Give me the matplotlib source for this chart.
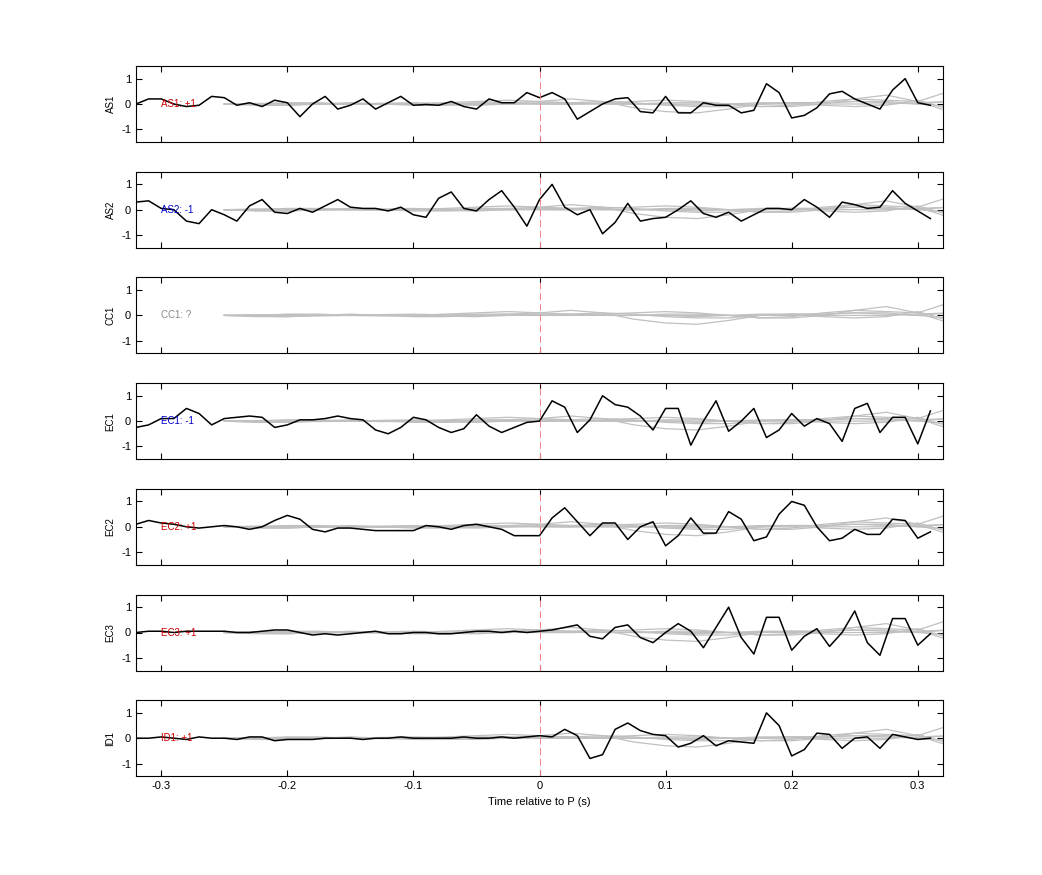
import matplotlib
matplotlib.use("Agg")
import matplotlib.pyplot as plt
import numpy as np

plt.rcParams["font.family"] = ["Liberation Sans", "DejaVu Sans"]
plt.rcParams["axes.unicode_minus"] = False

t = np.round(np.arange(-0.32, 0.315, 0.01), 2)

channels = ["AS1", "AS2", "CC1", "EC1", "EC2", "EC3", "ID1"]
polarity = ["+1", "-1", "?", "-1", "+1", "+1", "+1"]
pol_colors = {"+1": "#cc0000", "-1": "#0000cc", "?": "#888888"}

as1 = [0, 0.2, 0.2, 0, -0.1, -0.05, 0.3, 0.25, -0.05, 0.05, -0.1, 0.15, 0.05, -0.5, 0, 0.3,
       -0.2, -0.05, 0.2, -0.2, 0.05, 0.3, -0.05, -0.02, -0.05, 0.1, -0.1, -0.2, 0.2, 0.05, 0.05, 0.45,
       0.25, 0.45, 0.2, -0.6, -0.3, 0, 0.2, 0.25, -0.3, -0.35, 0.3, -0.35, -0.35, 0.05, -0.05, -0.05,
       -0.35, -0.25, 0.8, 0.45, -0.55, -0.45, -0.15, 0.4, 0.5, 0.2, 0, -0.2, 0.55, 1.0, 0.05, -0.05]
as2 = [0.3, 0.35, 0.05, 0.0, -0.45, -0.55, 0.0, -0.2, -0.45, 0.15, 0.4, -0.1, -0.15, 0.05, -0.1, 0.15,
       0.4, 0.1, 0.05, 0.05, -0.05, 0.1, -0.2, -0.3, 0.45, 0.7, 0.05, -0.05, 0.4, 0.75, 0.1, -0.65,
       0.4, 1.0, 0.1, -0.2, 0.0, -0.95, -0.5, 0.25, -0.45, -0.35, -0.3, 0.0, 0.35, -0.15, -0.3, -0.1,
       -0.45, -0.2, 0.05, 0.05, 0.0, 0.4, 0.1, -0.3, 0.3, 0.2, 0.05, 0.1, 0.75, 0.25, -0.05, -0.35]
cc1 = None
ec1 = [-0.25, -0.15, 0.1, 0.1, 0.5, 0.3, -0.15, 0.1, 0.15, 0.2, 0.15, -0.25, -0.15, 0.05, 0.05, 0.1,
       0.2, 0.1, 0.05, -0.35, -0.5, -0.25, 0.15, 0.05, -0.25, -0.45, -0.3, 0.25, -0.2, -0.45, -0.25, -0.05,
       0.0, 0.8, 0.55, -0.45, 0.05, 1.0, 0.65, 0.55, 0.2, -0.35, 0.5, 0.5, -0.95, 0.0, 0.8, -0.4,
       0.0, 0.5, -0.65, -0.35, 0.3, -0.2, 0.1, -0.1, -0.8, 0.5, 0.7, -0.45, 0.15, 0.15, -0.9, 0.4]
ec2 = [0.1, 0.25, 0.15, 0.1, 0.0, -0.05, 0.0, 0.05, 0.0, -0.1, 0.0, 0.25, 0.45, 0.3, -0.1, -0.2,
       -0.05, -0.05, -0.1, -0.15, -0.15, -0.15, -0.15, 0.05, 0.0, -0.1, 0.05, 0.1, 0.0, -0.1, -0.35, -0.35,
       -0.35, 0.35, 0.75, 0.2, -0.35, 0.15, 0.15, -0.5, 0.0, 0.2, -0.75, -0.35, 0.35, -0.25, -0.25, 0.6,
       0.3, -0.55, -0.4, 0.5, 1.0, 0.85, 0.0, -0.55, -0.45, -0.1, -0.3, -0.3, 0.3, 0.25, -0.45, -0.2]
ec3 = [0.0, 0.05, 0.05, 0.0, 0.05, 0.05, 0.05, 0.05, 0.0, 0.0, 0.05, 0.1, 0.1, 0.0, -0.1, -0.05,
       -0.1, -0.05, 0.0, 0.05, -0.05, -0.05, 0.0, 0.0, -0.05, -0.05, 0.0, 0.05, 0.05, 0.0, 0.05, 0.0,
       0.05, 0.1, 0.2, 0.3, -0.15, -0.25, 0.2, 0.3, -0.2, -0.4, 0.0, 0.35, 0.05, -0.6, 0.2, 1.0,
       -0.2, -0.85, 0.6, 0.6, -0.7, -0.15, 0.15, -0.55, 0.0, 0.85, -0.4, -0.9, 0.55, 0.55, -0.5, -0.05]
id1 = [0.0, 0.0, 0.05, 0.0, -0.05, 0.05, 0.0, 0.0, -0.05, 0.05, 0.05, -0.1, -0.05, -0.05, -0.05, 0.0,
       0.0, 0.0, -0.05, 0.0, 0.0, 0.05, 0.0, 0.0, 0.0, 0.0, 0.05, 0.0, 0.0, 0.05, 0.0, 0.05,
       0.1, 0.05, 0.35, 0.1, -0.8, -0.65, 0.35, 0.6, 0.3, 0.15, 0.1, -0.35, -0.2, 0.1, -0.3, -0.1,
       -0.15, -0.2, 1.0, 0.5, -0.7, -0.45, 0.2, 0.15, -0.4, 0.0, 0.05, -0.4, 0.15, 0.05, -0.05, 0.0]
black = [as1, as2, cc1, ec1, ec2, ec3, id1]

# gray reference traces, sampled every 0.025 s from -0.25 to 0.325
tg = np.round(np.arange(-0.25, 0.33, 0.025), 3)
gray = [
    [0, 0.02, 0.03, 0.02, 0, -0.02, 0, 0.05, 0.1, 0.15, 0.1, 0.05, 0.1, 0.05, -0.05, -0.1, -0.1, 0, 0.05, 0.05, 0.1, 0.05, 0, 0.1],
    [0, 0, 0.05, 0.05, 0, 0, 0, 0, 0.05, 0.05, 0.1, 0.2, 0.1, -0.15, -0.3, -0.35, -0.2, 0, 0.05, 0.05, 0.1, 0.1, 0, -0.1],
    [0, -0.05, -0.05, 0, 0.05, 0, -0.05, -0.05, 0, 0.05, 0, 0, 0.05, 0.1, 0.15, 0.1, 0, -0.1, -0.1, 0, 0.2, 0.35, 0.1, -0.3],
    [0, 0, 0, 0, 0, 0, 0, 0, 0, 0, 0, 0, 0, 0, 0, 0, 0, 0, 0, 0, 0, 0, 0.05, 0.1],
    [0, 0.02, 0, -0.02, 0, 0.03, 0.05, 0.02, 0, 0, 0.05, 0.05, 0, 0, 0.05, 0.05, 0, -0.1, -0.05, 0.1, 0.2, 0.15, 0.1, 0.5],
    [0, -0.03, -0.05, 0, 0.03, 0, 0, -0.03, -0.05, 0, 0.02, 0, 0.02, 0, 0, -0.05, 0, 0.05, 0.05, -0.05, -0.1, -0.05, 0.15, -0.2],
]

fig = plt.figure(figsize=(10.42, 8.75), dpi=100)
left, width = 136 / 1042, 807 / 1042
for i, ch in enumerate(channels):
    top = 66 + 105.7 * i
    ax = fig.add_axes([left, 1 - (top + 76) / 875, width, 76 / 875])
    for g in gray:
        ax.plot(tg, g, color="#c0c0c0", lw=0.9)
    if black[i] is not None:
        ax.plot(t, black[i], color="black", lw=1.1)
    ax.axvline(0, color="#f08080", ls=(0, (7, 4)), lw=0.7)
    ax.text(-0.3, 0, ch + ": " + polarity[i], color=pol_colors[polarity[i]],
            fontsize=7, va="center", ha="left")
    ax.set_xlim(-0.32, 0.32)
    ax.set_ylim(-1.5, 1.5)
    ax.set_yticks([-1, 0, 1])
    ax.set_xticks([-0.3, -0.2, -0.1, 0, 0.1, 0.2, 0.3])
    ax.tick_params(direction="in", top=True, right=True, labelsize=8, length=4)
    ax.set_ylabel(ch, fontsize=7)
    if i < len(channels) - 1:
        ax.set_xticklabels([])
    else:
        ax.set_xticklabels(["-0.3", "-0.2", "-0.1", "0", "0.1", "0.2", "0.3"])
        ax.set_xlabel("Time relative to P (s)", fontsize=8)

fig.savefig("out.png", dpi=100)
